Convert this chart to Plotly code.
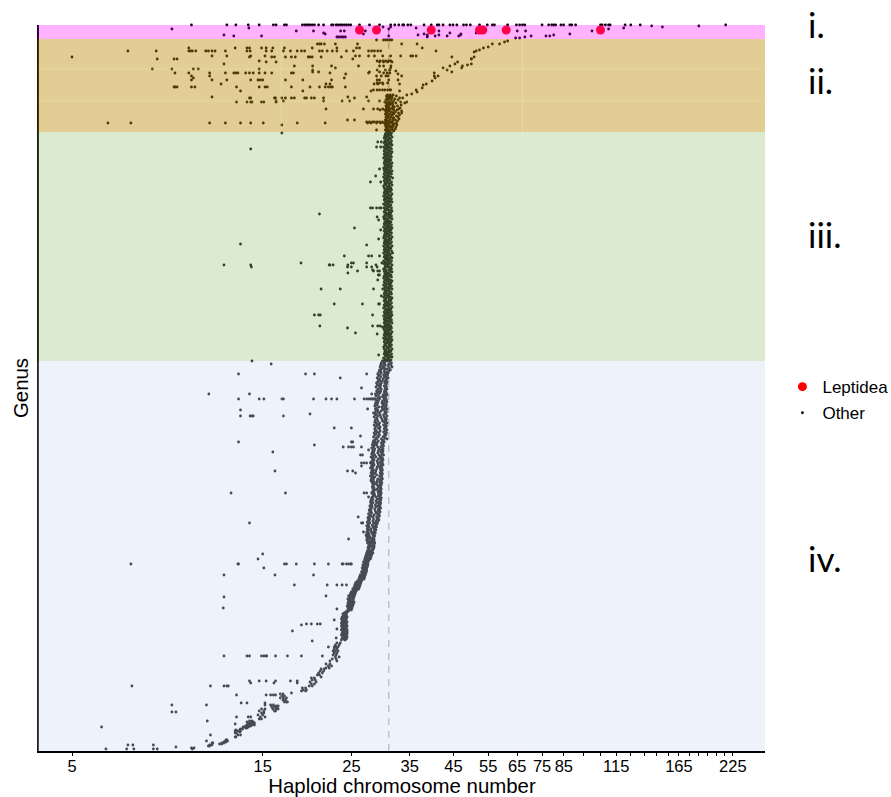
import plotly.graph_objects as go

# Each entry: genus rank from the top of the panel, then the haploid numbers read for it.
leptidea_rank = [5, 5, 5, 5, 5, 5, 5]
leptidea_chrom = [26.2, 28.9, 39.6, 52.3, 53.3, 61.0, 105.0]

zone_i = [
 (0, [9.95,12.2,12.85,13.8,14.7,15.95,16.2,17,17.2,18.85,19.1,19.3,19.5,19.7,19.95,20.2,20.7,21.3,22.3,22.5,22.9,23.15,23.45,23.7,24,24.3,24.6,24.9,26.2,27.75,29.4,31.35,32.1,32.85,33.6,34.6,33.8,35.2,38,39.6,41,41.4,42.4,44.1,44.9,45.9,47.7,48.5,49.6,52.3,54.7,56.3,57,61.5,64.7,65.9,67,67.9,75,77.9,79.3,80.2,81.1,83.6,84.9,88,89,91,105,106,108,110,111,121,125,132,216]),
 (1, [141,185]), (2, [150,30.0,31.35]), (3, [36.3,120,13.85]), (4, [8.89,31.0,110]),
 (6, [23.5,24.0,27.1,41.4,68.2,100,18.2,20.1,65.0]),
 (8, [21.3,44.1,51.3]), (9, [21.5,26.8,38,47.0,88]),
 (10, [12.0,36.7,38.7,46.9,41.4,80.2]),
 (11, [12.7,14.9,31.0,38.7,40.5,43.4,46.4,70.4,76.7,78.4]),
 (12, [23,23.2,23.45,23.7,23.9,24.15,38.7]),
]

zone_ii = [
 (15, [28.9,30.1,30.45,30.8,31.2,31.55]),
 (19, [20.55,20.8,21,21.4,22.8,25.9,33.4,36.5]),
 (23, [9.8,12.8,13.7,13.9,14.9,15.3,15.9,17,19.95,23,25.75,26.2,37.6]),
 (26, [6.9,8.12,9.8,9.9,10,10.2,10.8,10.97,11.2,11.4,12.1,13.7,13.95,15.3,15.8,16.9,17.6,18.3,18.75,19.1,20.8,21.15,21.75,22.4,23,24.3,25.3,27.6,28.1,28.55,29.1,29.6,40.7]),
 (31, [11.2,12.2,14,15.2,25.6,26.2,27.6,28.55,29.95,31.35,33.2,35.2,35.6,36.3]),
 (32, [5,13.9,15.8,16.05,17.1,17.7,18.1,19.5,19.7,19.95,21,23.6,44.6]),
 (34, [8.17,9,9.16,25.2]),
 (36, [14.7,29,29.5,30,30.45,31,31.35]),
 (37, [15.3,16.2,29.4,30.1,30.8,31.6]),
 (39, [12.0]),
 (41, [18,20,22.3,26.05,29.4,30.1,31.4]),
 (43, [22.8,31.35]),
 (44, [7.94,8.89,10.06,10.35,14.7]),
 (45, [20,30.4,31.2,29.0]),
 (46, [32.3]),
 (47, [20.0,20.7,27.75,29.4]),
 (48, [9.05,9.8,11.05,12.1,12.7,12.85,13,13.6,13.9,14.2,14.7,15.2,15.8,17.7,17.9,22.1,27.6,30.1,30.7,31.2]),
 (49, [24.2,32.7]),
 (51, [11.05,9.95,28.9,29.7,30.5,30.9,33.4,40.3]),
 (53, [10.06,24]),
 (55, [9.95,11.2,12.2,14,14.6,14.8,15,17.1,18.9,22.3,29,29.4,32.7,31]),
 (58, [29,29.4,29.9,30.8]),
 (59, [11.8,21.6,22.1,28.5,29.1,30,33]),
 (62, [12.9,15.2,15.4,17.7,19.7,20.8,21.5,21.9,22.2,22.4,24.15,9,9.05,9.16,9.95,10.15,14.7]),
 (65, [28.4,29,29.4,29.9,30.3,30.8,31.2,31.35]),
 (66, [13.2,18.9,28,33]),
 (72, [27.3,30.7,31.35,11.2,24.5]),
 (73, [13.9,16.05,16.15,16.75,17.7,18,19.1,19.3,19.85,20.2,21.3,25.45,14,17.1]),
 (76, [16.2,16.9,21.3,23.7,27.6,29.4,30.8,24.75]),
 (77, [12.9,13.7,14.0,14.1,14.9,15.1,16.2,31.2,30.3]),
 (84, [21.6,26.8,28.4,29.1,29.95,30.8]),
 (85, [30.3,29.5,30.9]),
 (95, [24.45,25.45]),
 (97, [27.3,27.75,28.25,28.55,29,29.4,29.9]),
 (98, [6.15,7.02,11.05,12.1,13.2,14,15.05,18.3,21.5,27.45,28,28.9,29.6,30.2,30.6]),
 (100, [16.75]),
 (105, [28.9]),
]

# upper arm of the curve that leaves the main band towards the top right
arm_rank = [84,88,78,77,73,70,69,65,67,63,60,59,56,53,48,51,43,45,41,47,39,37,43,41,40,39,34,32,34,27,26,25,23,22,19,19,17,16,13,13,12]
arm_chrom = [32.85,33.4,34,34.4,33.6,34.4,35.4,36.3,36.5,37.6,37.8,38.5,39.8,40.5,40.3,41.2,42.4,43.4,44.1,44.6,45.4,46.1,47.2,47.4,48.8,49.9,49.9,50.7,49.9,50.7,51.3,52.3,53.5,55,56.3,58.7,60.4,61.5,64.4,65.9,67.9]

# main band: consecutive genera, values per genus across the width of the band
mass_ii_start = 70
mass_ii_left = [
 30.8,30.6,31.0,30.7,30.9,30.5,30.8,31.0,30.6,30.9,
 30.7,30.5,30.8,30.6,30.9,30.7,30.5,30.8,30.6,30.4,
 30.7,30.9,30.5,30.8,30.6,30.4,30.7,30.5,30.8,30.6,
 30.4,30.7,30.5,30.8,30.6,30.4,30.7]
mass_ii_mid = [
 31.3,31.0,31.6,31.2,31.5,30.9,31.4,31.7,31.1,31.5,
 31.2,31.8,31.0,31.6,31.3,31.9,31.1,31.5,31.8,31.2,
 31.6,31.0,31.4,31.9,31.2,31.7,31.1,31.5,31.3,31.8,
 31.0,31.5,31.2,31.6,30.9,31.3,31.1]
mass_ii_right = [
 31.8,32.4,31.5,33.0,32.1,32.7,31.9,33.2,32.3,31.7,
 33.3,32.6,32.0,33.1,31.8,32.5,33.4,32.2,32.8,31.9,
 33.0,32.4,32.7,31.8,32.9,32.2,32.6,31.7,32.4,32.0,
 32.5,31.8,32.3,31.6,32.2,31.7,31.9]

band_iii_start = 107
band_iii_left = [
 30.6,30.9,30.4,30.7,30.3,30.6,30.2,30.5,30.8,30.3,
 30.5,30.2,30.7,30.4,30.6,30.1,30.5,30.3,30.7,30.2,
 30.4,30.7,30.2,30.5,30.3,30.6,30.1,30.4,30.7,30.3,
 30.5,30.2,30.6,30.3,30.7,30.4,30.1,30.5,30.2,30.6,
 30.3,30.7,30.2,30.4,30.6,30.1,30.5,30.3,30.7,30.2,
 30.4,30.6,30.3,30.5,30.1,30.7,30.2,30.4,30.6,30.3,
 30.5,30.2,30.7,30.4,30.1,30.6,30.3,30.5,30.2,30.7,
 30.4,30.6,30.1,30.3,30.5,30.7,30.2,30.4,30.6,30.3,
 30.2,30.5,30.7,30.3,30.6,30.1,30.4,30.2,30.5,30.7,
 30.3,30.6,30.2,30.4,30.7,30.1,30.5,30.3,30.6,30.2,
 30.4,30.7,30.3,30.5,30.2,30.6,30.1,30.4,30.7,30.3,
 30.5,30.2,30.6,30.4,30.1,30.7,30.3,30.5,30.2,30.6,
 30.4,30.1,30.7,30.3,30.5,30.2,30.6,30.4,30.7,30.1,
 30.3,30.5,30.2,30.6,30.4,30.7,30.3,30.1,30.5,30.2,
 30.6,30.3,30.7,30.4,30.2,30.5,30.1,30.6,30.3,30.7,
 30.2,30.4,30.6,30.1,30.5,30.3,30.7,30.2,30.4,30.6,
 30.3,30.5,30.2,30.7,30.4,30.1,30.6,30.3,30.5,30.2,
 30.7,30.4,30.6,30.2,30.5,30.3,30.1,30.6,30.4,30.7,
 30.2,30.5,30.3,30.6,30.1,30.4,30.7,30.2,30.5,30.3,
 30.6,30.2,30.4,30.7,30.3,30.5,30.1,30.6,30.2,30.4,
 30.7,30.3,30.5,30.2,30.6,30.4,30.1,30.5,30.3,30.7,
 30.2,30.6,30.4,30.3,30.5,30.1,30.7,30.2,30.4,30.6,
 30.3,30.5,30.2,30.6,30.4,30.7,30.1,30.3,30.5,30.2]
# middle of the band, read on every third genus
band_iii_mid = [
 30.9,31.0,31.1,30.9,31.0,30.8,30.9,31.0,30.8,31.1,
 30.9,31.0,30.8,31.1,31.0,30.9,30.8,31.0,31.1,30.9,
 30.8,31.0,30.9,31.1,30.8,31.0,30.9,31.0,31.1,30.8,
 30.9,31.0,30.8,31.1,30.9,31.0,31.1,30.8,30.9,31.0,
 30.8,31.1,30.9,31.0,30.8,30.9,31.1,31.0,30.8,30.9,
 31.0,31.1,30.9,30.8,31.0,30.9,31.1,30.8,31.0,30.9,
 31.1,30.8,31.0,30.9,31.0,30.8,31.1,30.9,31.0,30.8,
 31.0,31.1,30.9,31.0,30.8,31.1]
band_iii_right = [
 31.2,31.5,31.0,31.4,30.9,31.6,31.1,31.3,30.8,31.5,
 31.0,31.4,31.2,31.6,30.9,31.3,31.1,31.5,30.8,31.2,
 31.6,31.0,31.4,30.9,31.3,31.5,31.1,30.8,31.4,31.2,
 31.0,31.6,31.3,30.9,31.5,31.1,31.4,30.8,31.2,31.6,
 31.0,31.3,31.5,30.9,31.1,31.4,31.7,31.0,31.2,30.8,
 31.5,31.3,31.0,31.6,31.1,30.9,31.4,31.2,31.5,31.0,
 31.3,30.8,31.6,31.1,31.4,30.9,31.2,31.5,31.0,31.3,
 31.6,31.1,30.9,31.4,31.2,31.0,31.5,30.8,31.3,31.6,
 31.1,31.4,30.9,31.2,31.5,31.0,31.3,31.6,30.8,31.1,
 31.4,31.2,30.9,31.5,31.0,31.3,31.6,31.1,31.4,30.8,
 31.2,31.5,30.9,31.3,31.0,31.6,31.1,31.4,31.2,30.9,
 31.5,31.0,31.3,30.8,31.6,31.1,31.4,31.2,30.9,31.5,
 31.0,31.7,31.3,31.1,30.9,31.4,31.6,31.2,31.0,31.5,
 30.8,31.3,31.1,31.6,30.9,31.4,31.2,31.5,31.0,31.3,
 31.6,31.1,30.9,31.4,31.2,31.5,30.8,31.0,31.3,31.6,
 31.1,31.4,30.9,31.2,31.5,31.0,31.3,31.6,31.1,30.8,
 31.4,31.2,31.5,30.9,31.0,31.3,31.6,31.1,31.4,31.2,
 30.9,31.5,31.0,31.3,30.8,31.6,31.1,31.4,31.2,31.0,
 31.5,30.9,31.3,31.6,31.1,31.4,30.8,31.2,31.5,31.0,
 31.3,31.6,30.9,31.1,31.4,31.2,31.5,31.0,31.3,30.8,
 31.6,31.1,31.4,30.9,31.2,31.5,31.0,31.3,31.6,31.1,
 31.4,30.8,31.2,31.5,31.0,31.3,30.9,31.6,31.1,31.4,
 31.2,30.9,31.5,31.0,31.3,31.6,31.1,30.9,31.4,31.2]

zone_iii = [
 (108, [16.75]), (124, [14.0]), (117, [29.1,29.7]), (122, [28.9,29.6]), (144, [29.4]), (151, [28.75]),
 (157, [27.9,29.6]), (183, [27.9,28.25,28.9,29.4,29.7]), (189, [20.8]), (192, [29.0]), (195, [29.25]),
 (203, [25.45]), (205, [29.6]), (214, [29.25]), (219, [13.2]), (220, [27.3]),
 (231, [24,27.6,28.1,29.4]), (238, [18.7,25.0,25.3,27.3,29.8]), (240, [12.0,24.5,14.0,22.0,22.1,22.5,28.8]),
 (242, [14.05,24.45,25.0,27.3,28.1,29.0]), (245, [28.25]), (246, [25.9,28.4,29.1,29.4]), (248, [24.5]),
 (250, [29.2,29.4]), (255, [29.1]), (264, [21.0,23.45,28.4,29.95]), (271, [29.7]),
 (279, [22.65,26.65,29.25,29.4]), (290, [20.2,20.7,20.9,28.25]), (301, [20.85,28.25,29.1,29.5]), (302, [29.9]),
 (303, [24.45]), (308, [25.6]), (309, [29.0]), (330, [29.25]),
]

band_iv_start = 336
band_iv_left = [
 29.9,30.1,29.7,30.2,29.6,29.9,29.5,30.0,29.7,29.4,
 29.6,29.3,29.7,29.1,29.5,29.2,29.6,29.0,29.4,29.2,
 29.5,29.1,28.9,29.4,29.0,29.3,28.8,29.5,29.1,29.2,
 28.9,29.3,29.0,28.7,29.2,28.8,29.4,29.1,28.6,28.9,
 29.2,28.8,29.1,28.7,29.0,28.6,29.3,28.9,28.7,29.1,
 28.8,29.2,28.6,28.9,28.7,29.1,28.5,28.9,29.0,28.7,
 29.1,28.6,28.8,29.0,28.5,28.9,28.7,29.2,28.6,28.8,
 28.7,29.0,28.5,28.8,28.6,29.1,28.4,28.8,28.9,28.6,
 28.4,28.7,28.3,28.6,28.2,28.5,28.4,28.1,28.6,28.3,
 28.5,28.2,28.4,28.1,28.6,28.3,28.0,28.4,28.2,28.5,
 28.3,28.0,28.4,28.2,28.5,28.1,28.3,27.9,28.2,28.4,
 28.1,28.3,28.0,28.4,28.2,27.9,28.3,28.1,28.4,28.0,
 28.3,28.5,28.2,28.6,28.3,28.4,28.2,28.5,28.3,28.6,
 28.4,28.2,28.5,28.3,28.6,28.4,28.2,28.1,28.3,28.0,
 28.2,27.9,28.3,28.0,28.1,27.8,28.2,27.9,28.0,27.7,
 28.0,27.8,28.1,27.6,27.9,28.0,27.7,27.5,27.8,27.6,
 27.7,27.4,27.8,27.5,27.6,27.3,27.7,27.5,27.4,27.6,
 27.5,27.3,27.6,27.4,27.2,27.5,27.3,27.6,27.4,27.3,
 27.6,27.8,27.5,27.7,27.9,27.6,27.8,27.5,27.7,27.6,
 27.4,27.6,27.3,27.5,27.2,27.4,27.1,27.3,27.0,27.2,
 27.0,26.8,27.1,26.9,26.7,27.0,26.8,26.6,26.9,26.7,
 26.7,26.5,26.8,26.6,26.3,26.5,26.2,26.4,26.1,26.3,
 25.9,25.8,25.6,25.9,25.5,25.7,25.4,25.6,25.2,25.5,
 25.2,25.0,24.9,25.1,24.8,24.6,24.9,24.7,24.5,24.8,
 24.6,24.8,24.5,24.7,24.6,24.4,24.7,24.5,24.8,24.6,
 24.4,24.2,24.0,23.8,24.1,23.9,23.7,23.9,23.6,23.8,
 23.7,23.9,23.6,23.8,23.7,23.6,23.9,23.7,23.8,23.6,
 23.8,24.0,23.7,23.9,23.6,23.8,24.0,23.7,23.9,23.6]
# middle of the band, read on every second genus
band_iv_mid = [
 30.5,30.3,30.4,30.2,30.3,
 30.2,30.3,30.1,30.2,30.0,
 29.9,29.7,29.6,29.5,29.7,
 29.6,29.5,30.0,29.9,29.4,
 29.9,29.8,30.0,29.8,29.9,
 29.7,29.4,29.5,29.6,29.8,
 29.9,29.4,29.3,29.5,29.4,
 29.5,29.3,29.4,29.2,29.7,
 29.2,29.0,28.9,29.1,29.3,
 29.2,29.1,29.3,28.8,29.2,
 29.0,29.1,29.2,29.0,28.9,
 28.8,28.7,28.9,28.6,29.1,
 29.0,28.9,29.0,29.2,29.0,
 29.1,29.2,29.3,28.8,29.0,
 28.8,28.9,28.7,28.8,28.6,
 28.7,28.8,28.5,28.3,28.4,
 28.3,28.4,28.2,28.3,28.0,
 28.0,28.1,27.7,27.8,27.9,
 28.1,28.0,28.4,28.3,28.2,
 27.9,27.8,27.7,27.9,27.5,
 27.3,27.4,27.0,27.1,27.2,
 27.0,27.1,26.5,26.6,26.4,
 26.2,25.9,25.8,25.7,25.6,
 25.5,25.2,25.1,25.2,24.8,
 24.9,24.8,24.9,25.0,24.6,
 24.5,24.2,24.2,23.9,23.8,
 23.9,23.8,23.9,23.8,24.0,
 24.0,23.9,23.8,24.2,24.1]
band_iv_right = [
 30.8,31.2,31.5,31.0,31.4,30.9,31.6,31.1,30.7,31.3,
 31.0,30.6,30.9,30.5,30.8,30.4,30.7,30.9,30.5,30.6,
 30.4,30.7,30.3,30.6,30.5,30.2,30.6,30.4,30.7,30.3,
 30.5,30.2,30.6,30.3,30.7,30.4,30.1,30.5,30.2,30.6,
 30.3,30.7,30.2,30.4,30.6,30.1,30.5,30.3,30.7,30.2,
 30.4,30.6,30.3,30.5,30.1,30.7,30.2,30.4,30.6,30.3,
 30.5,30.2,30.7,30.4,30.1,30.6,30.3,30.5,30.2,30.7,
 30.4,30.1,30.6,30.3,30.5,30.2,30.0,30.4,30.7,30.1,
 29.9,30.2,29.7,30.0,29.8,30.1,29.6,29.9,30.0,29.7,
 30.0,29.6,29.9,29.8,30.1,29.7,29.5,29.9,29.6,30.0,
 29.8,29.5,29.9,29.6,30.0,29.7,29.4,29.8,29.5,29.9,
 29.6,29.8,29.5,29.9,29.7,29.4,29.8,29.6,29.9,29.5,
 29.7,29.4,29.8,29.5,29.7,29.3,29.6,29.4,29.7,29.5,
 29.6,29.3,29.7,29.4,29.6,29.2,29.5,29.7,29.3,29.6,
 29.5,29.2,29.6,29.3,29.5,29.1,29.4,29.6,29.2,29.4,
 29.2,29.5,29.0,29.3,29.1,29.4,28.9,29.2,29.0,29.3,
 28.8,29.1,28.7,29.0,28.8,28.6,28.9,28.7,28.5,28.8,
 28.6,28.4,28.7,28.5,28.3,28.6,28.4,28.2,28.5,28.3,
 28.5,28.3,28.6,28.4,28.5,28.2,28.5,28.3,28.4,28.2,
 28.2,28.0,28.3,27.9,28.1,27.8,28.0,27.7,27.9,27.6,
 27.6,27.4,27.5,27.3,27.5,27.2,27.4,27.1,27.3,27.1,
 27.3,27.0,27.2,26.9,27.1,26.8,27.0,26.7,26.9,26.6,
 26.5,26.3,26.4,26.1,26.3,26.0,26.2,25.9,26.1,25.8,
 25.7,25.5,25.6,25.4,25.5,25.3,25.4,25.2,25.3,25.1,
 25.2,25.4,25.1,25.3,25.0,25.2,24.9,25.1,24.8,25.0,
 24.6,24.4,24.3,24.1,24.3,24.2,24.4,24.1,24.3,24.0,
 24.2,24.4,24.1,24.3,24.2,24.4,24.1,24.3,24.2,24.4,
 24.3,24.4,24.2,24.4,24.1,24.3,24.4,24.2,24.3,24.1]

# lower end of the curve, where genera sit in small clumps
curve_iv = [
 (618,[23,23.45]),(620,[22.8,23.3]),(622,[22.9,23.15,22.65]),(624,[22.65,23]),(626,[22.8,23.15,22.5]),
 (628,[22.65,23]),(630,[22.5,22.9]),(632,[22.8,23.3]),(634,[22.4,22.9]),(636,[23,22.1]),
 (639,[21.6,22.1]),(641,[21.9,22.3]),(643,[22,21.6]),(644,[21.4,21]),(646,[20.9,21.3]),(648,[20.7,21.15]),
 (650,[20.8,20.55]),(652,[21]),(653,[20.2,19.85]),(655,[20.3,19.95]),(657,[19.7,20.4]),(659,[19.85,20.2]),
 (661,[19.6,19.95]),(663,[18.85,19.2]),(665,[18.95,19.3]),(666,[18.75,19.2]),(668,[17.7]),
 (669,[16.6,16.85]),(671,[16.75,17]),(673,[16.9,16.6,17.2]),(675,[16.85,17.1]),(677,[17,17.3,17.2]),
 (680,[15.7,15.95]),(681,[16.2,16.4]),(682,[15.8,16.05,16.3]),(684,[15.9,16.2,16.4,14.9,15.2]),
 (686,[16.15,16.05,15.1,14.7]),(688,[14.9,15.1]),(690,[14.6,15]),(692,[14.8,15.2]),(694,[14.9,14.7]),
 (696,[13.9,14.1]),(697,[13.7,14,14.2]),(698,[13.9,14,14.3]),(699,[13.8,13.95,14.2]),(700,[13.7,13.9,14.1,14.3]),
 (701,[13.6,13.9,14]),(702,[13.8,13.55,13.4]),(703,[13.7,13.6]),(704,[13.2,13.35]),(705,[12.85,13.15]),
 (706,[12.8,13,13.2]),(707,[13.15]),(708,[12.8,12.9]),(710,[13,13.2]),(712,[12.85,12.8]),
 (715,[12.2,12.15]),(716,[12.1,12.25]),(717,[12,12.15]),(718,[11.85,12,11.2,11.25]),(719,[11.7,11.85]),
 (720,[11.05,11.2]),(721,[10.97,11.05]),
]

zone_iv = [
 (336, [14.1]), (339, [15.75,29.7]), (349, [13.05,19.2,20.2,27.3]), (353, [23.45]),
 (363, [26.5]), (369, [11.0,13.9,28.1]),
 (374, [13.05,14.7,15.1,16.75,16.9,20.1,21.6,22.3,23,25.45,26.9,27.3,27.6,27.9,28.1,28.25,28.5]),
 (384, [27.45]), (385, [13.2]), (388, [28.4]), (389, [19.7]), (391, [13.95,14.1,14.2,13.2,16.9]),
 (403, [22.65,25]), (411, [26.35]), (417, [13.05,25,25.2,28.4]), (420, [20.2]), (422, [24.6,23.85,25,25.3,26.5]),
 (425, [27.6]), (427, [15.9]), (430, [26.35,26.65]), (438, [26.9,26.5,27.3,27.9,28.25]), (441, [26.5,28.1]),
 (446, [24.45,25.2,16.1]), (448, [25.6]), (456, [28]), (468, [12.5,17.1,26.9,27.3,28.1]), (472, [27.6]),
 (492, [26.0,27.6]), (498, [13.9,26.7,26.5]), (507, [26.8]), (514, [24.6]), (516, [27.45]),
 (518, [27.45]),
 (529, [15.0]), (534, [14.6]), (539, [7.02,13,13.05,17,17.2,18.2,20.2,21.9,23.85,23.7,24.6,24.3,25,24.9]),
 (543, [15.1]), (550, [12.0,16.1,20.1]), (560, [18,21.75,23,23.7,24.3]), (571, [21.6]), (572, [12.0]),
 (583, [11.95]), (584, [23]), (595, [22.65]), (599, [19.3,19.85,20.55,20.9]), (600, [18.75]), (604, [23]), (606, [17.8]),
 (613, [22.9]), (616, [19.95]), (622, [21.9]), (631, [12,13.7,13.9,14.9,15.1,15.3,15.35,16.15,17.3,18.75,21.15]),
 (656, [13.9,14.7,15.3,16.15,17.6,18.3]),(658,[14.0,16.0,18.3]),
 (661, [7.06,11.1,12,12.2,12.3]), (670, [12.9,15.3,15.7,15.95,16.15]), (678, [13.25,13.7,15.2]),
 (680, [8.89,10.85,15.2]), (687, [8.89,9.1]), (692, [12.9,13.8,14]), (696, [10.9]), (702, [5.93]), (699, [12.8]),
 (710, [11.1]), (716, [10.85]), (720, [6.9,7.1,7.99]), (722, [9.1]), (723, [9.95,10.1]), (724, [6.85,7.14,6.08,7.99,8.17,10]),
]

x_ticks = [5,15,25,35,45,55,65,75,85,95,105,115,125,135,145,155,165,175,185,195,205,215,225]
x_labels = ["5","15","25","35","45","55","65","75","85","","","115","","","","","165","","","","","","225"]
zone_limits = [0, 14, 107, 336, 726]
zone_fill = ["rgba(255,0,255,0.30)", "rgba(186,136,0,0.42)", "rgba(150,195,115,0.333)", "rgba(206,217,244,0.34)"]
zone_names = ["i.", "ii.", "iii.", "iv."]
zone_label_pos = [1.0014, 0.9236, 0.7121, 0.2658]
grid_x = [16.7, 67]
grid_rank = [44, 76]

rank, chrom = [], []
for rows in (zone_i, zone_ii, zone_iii, zone_iv, curve_iv):
    for r, vals in rows:
        rank += [r] * len(vals)
        chrom += vals
rank += arm_rank
chrom += arm_chrom
for start, step, vals in ((mass_ii_start, 1, mass_ii_left), (mass_ii_start, 1, mass_ii_mid), (mass_ii_start, 1, mass_ii_right),
                          (band_iii_start, 1, band_iii_left), (band_iii_start, 3, band_iii_mid), (band_iii_start, 1, band_iii_right),
                          (band_iv_start, 1, band_iv_left), (band_iv_start, 2, band_iv_mid), (band_iv_start, 1, band_iv_right)):
    rank += list(range(start, start + step * len(vals), step))
    chrom += vals

FONT = "Liberation Sans, Arial, sans-serif"
fig = go.Figure()
fig.add_trace(go.Scatter(x=chrom, y=rank, mode="markers", name="Other", cliponaxis=False, legendgroup="b", legendrank=2,
                         marker=dict(size=2.8, color="black", line=dict(width=0))))
fig.add_trace(go.Scatter(x=leptidea_chrom, y=leptidea_rank, mode="markers", name="Leptidea", cliponaxis=False, legendgroup="a", legendrank=1,
                         marker=dict(size=9, color="red", line=dict(width=0))))

shapes = [dict(type="line", xref="x", yref="paper", x0=31, x1=31, y0=0, y1=1, layer="below",
               line=dict(color="#b8b8b8", width=1.5, dash="7px,6px"))]
for i, fill in enumerate(zone_fill):
    shapes.append(dict(type="rect", xref="paper", yref="y", x0=-0.002, x1=1, y0=zone_limits[i], y1=zone_limits[i+1],
                       fillcolor=fill, line=dict(width=0), layer="above"))
for g in grid_x:
    for a, b in ((zone_limits[1], zone_limits[2]), (zone_limits[3], zone_limits[4])):
        shapes.append(dict(type="line", xref="x", yref="y", x0=g, x1=g, y0=a, y1=b, layer="above",
                           line=dict(color="rgba(255,255,255,0.2)", width=1)))
for g in grid_rank:
    shapes.append(dict(type="line", xref="paper", yref="y", x0=0, x1=1, y0=g, y1=g, layer="above",
                       line=dict(color="rgba(255,255,255,0.2)", width=1)))

annotations = [dict(text=t, xref="paper", yref="paper", x=1.0565, y=p, xanchor="left", yanchor="middle", showarrow=False,
                    font=dict(family="Lato, sans-serif", size=35, color="black"))
               for t, p in zip(zone_names, zone_label_pos)]

fig.update_layout(
    width=891, height=797, margin=dict(l=39, r=126, t=25, b=46, autoexpand=False),
    paper_bgcolor="white", plot_bgcolor="white", shapes=shapes, annotations=annotations,
    font=dict(family=FONT, color="black"),
    legend=dict(x=1.024, y=0.526, xanchor="left", yanchor="top", traceorder="grouped", tracegroupgap=1,
                font=dict(size=17), itemsizing="trace", bgcolor="rgba(0,0,0,0)"),
    xaxis=dict(type="log", range=[0.61641, 2.43277], tickvals=x_ticks, ticktext=x_labels, ticks="outside", ticklen=3,
               ticklabelstandoff=-4,
               tickcolor="black", tickfont=dict(size=16.5), showgrid=False, zeroline=False, showline=True,
               linecolor="black", linewidth=1.5,
               title=dict(text="Haploid chromosome number", font=dict(size=20.4), standoff=4)),
    yaxis=dict(range=[726, 0], showticklabels=False, ticks="", showgrid=False, zeroline=False, showline=True,
               linecolor="black", linewidth=1.5,
               title=dict(text="Genus", font=dict(size=20.4), standoff=3)),
)
fig.write_html("out.html", config=dict(displayModeBar=False), post_script="document.body.style.margin='0';")
